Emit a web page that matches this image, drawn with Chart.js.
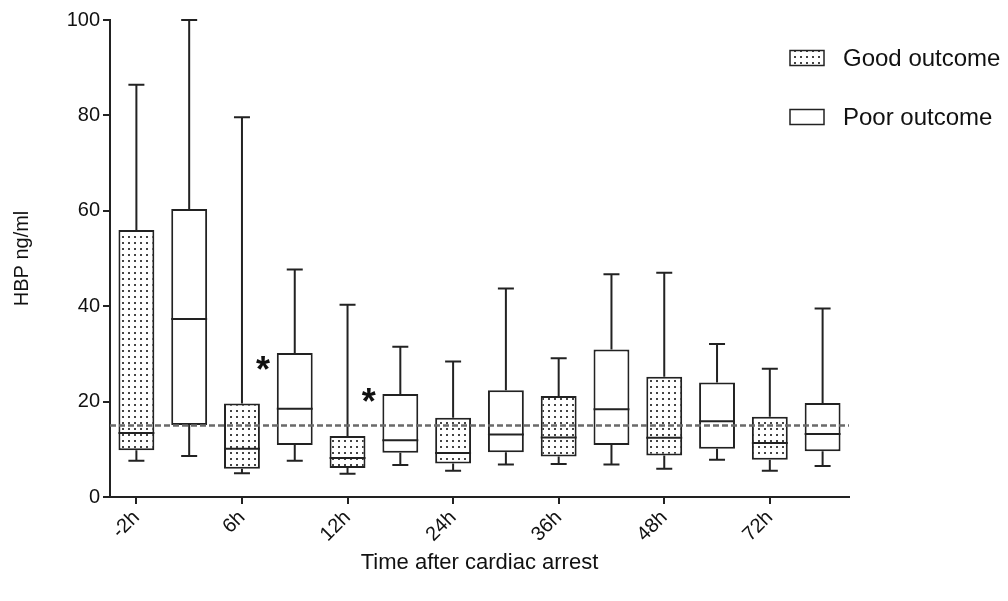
<!DOCTYPE html>
<html><head><meta charset="utf-8">
<script src="https://cdn.jsdelivr.net/npm/chart.js@4.4.1/dist/chart.umd.min.js"></script>
<style>html,body{margin:0;padding:0;background:#fff;}canvas{display:block;}</style>
</head><body>
<canvas id="c" width="1008" height="601"></canvas>
<script>
// ---- data ----
const categories = ['-2h', '6h', '12h', '24h', '36h', '48h', '72h'];
const seriesNames = ['Good outcome', 'Poor outcome'];
const goodMin    = [7.6, 5.0, 4.9, 5.5, 6.9, 5.9, 5.5];
const goodQ1     = [9.8, 5.9, 6.1, 7.0, 8.5, 8.7, 7.8];
const goodMedian = [13.4, 10.1, 8.2, 9.2, 12.5, 12.4, 11.3];
const goodQ3     = [56.0, 19.6, 12.8, 16.6, 21.2, 25.2, 16.8];
const goodMax    = [86.4, 79.6, 40.3, 28.4, 29.1, 47.0, 26.9];
const poorMin    = [8.6, 7.6, 6.7, 6.8, 6.8, 7.8, 6.5];
const poorQ1     = [15.1, 10.9, 9.3, 9.4, 10.9, 10.1, 9.6];
const poorMedian = [37.3, 18.5, 11.9, 13.1, 18.4, 15.9, 13.2];
const poorQ3     = [60.4, 30.2, 21.6, 22.4, 30.9, 24.0, 19.7];
const poorMax    = [100, 47.7, 31.5, 43.7, 46.7, 32.1, 39.5];
const yTicks = [0, 20, 40, 60, 80, 100];
const referenceValue = 15;
const starCategories = ['6h', '12h'];
const starValues = [28, 21.4];

// ---- build library structures ----
const FONT = "'Liberation Sans', Arial, Helvetica, sans-serif";
const INK = '#222';
const slotLabels = [];
const goodBars = [], poorBars = [];
categories.forEach((c, i) => {
  slotLabels.push(c); slotLabels.push('');
  goodBars.push([goodQ1[i], goodQ3[i]]); goodBars.push(null);
  poorBars.push(null); poorBars.push([poorQ1[i], poorQ3[i]]);
});
const stats = [
  {min: goodMin, med: goodMedian, max: goodMax, q1: goodQ1, q3: goodQ3},
  {min: poorMin, med: poorMedian, max: poorMax, q1: poorQ1, q3: poorQ3}
];

const canvas = document.getElementById('c');
const pc = document.createElement('canvas'); pc.width = 6; pc.height = 6;
const pctx = pc.getContext('2d');
pctx.fillStyle = '#fff'; pctx.fillRect(0, 0, 6, 6);
pctx.fillStyle = '#444'; pctx.fillRect(2, 2, 2, 2);
const dotPattern = canvas.getContext('2d').createPattern(pc, 'repeat');

const extras = {
  id: 'boxExtras',
  afterDatasetsDraw(chart) {
    const ctx = chart.ctx, xs = chart.scales.x, ys = chart.scales.y, area = chart.chartArea;
    ctx.save();
    ctx.strokeStyle = INK; ctx.lineWidth = 2; ctx.lineCap = 'butt';
    stats.forEach((s, g) => {
      const meta = chart.getDatasetMeta(g);
      categories.forEach((c, i) => {
        const slot = 2 * i + g;
        const el = meta.data[slot];
        const cx = xs.getPixelForValue(slot);
        const hw = el.width / 2;
        const capHw = 8;
        const yMin = ys.getPixelForValue(s.min[i]);
        const yMax = ys.getPixelForValue(s.max[i]);
        const yQ1 = ys.getPixelForValue(s.q1[i]);
        const yQ3 = ys.getPixelForValue(s.q3[i]);
        const yMed = ys.getPixelForValue(s.med[i]);
        ctx.beginPath();
        ctx.moveTo(cx, yQ3); ctx.lineTo(cx, yMax);
        ctx.moveTo(cx, yQ1); ctx.lineTo(cx, yMin);
        ctx.moveTo(cx - capHw, yMax); ctx.lineTo(cx + capHw, yMax);
        ctx.moveTo(cx - capHw, yMin); ctx.lineTo(cx + capHw, yMin);
        ctx.moveTo(cx - hw, yMed); ctx.lineTo(cx + hw, yMed);
        ctx.stroke();
      });
    });
    // reference line
    const yRef = ys.getPixelForValue(referenceValue);
    ctx.strokeStyle = '#6a6a6a'; ctx.lineWidth = 2.5; ctx.setLineDash([6, 3]);
    ctx.beginPath(); ctx.moveTo(area.left, yRef); ctx.lineTo(area.right, yRef); ctx.stroke();
    ctx.setLineDash([]);
    // significance stars
    ctx.fillStyle = '#111';
    ctx.font = 'bold 36px ' + FONT;
    ctx.textAlign = 'center'; ctx.textBaseline = 'alphabetic';
    starCategories.forEach((c, k) => {
      const idx = 2 * categories.indexOf(c);
      const px = xs.getPixelForValue(idx) + 0.4 * (xs.getPixelForValue(1) - xs.getPixelForValue(0));
      const py = ys.getPixelForValue(starValues[k]);
      const m = ctx.measureText('*');
      const off = (m.actualBoundingBoxAscent - m.actualBoundingBoxDescent) / 2;
      ctx.fillText('*', px, py + off);
    });
    ctx.restore();
  },
  afterDraw(chart) {
    const ctx = chart.ctx;
    ctx.save();
    const items = [{y: 58, fill: dotPattern, label: seriesNames[0]}, {y: 117, fill: '#fff', label: seriesNames[1]}];
    items.forEach(it => {
      ctx.fillStyle = it.fill;
      ctx.fillRect(790, it.y - 7.5, 34, 15);
      ctx.strokeStyle = INK; ctx.lineWidth = 1.5;
      ctx.strokeRect(790, it.y - 7.5, 34, 15);
      ctx.fillStyle = '#111';
      ctx.font = '24px ' + FONT;
      ctx.textAlign = 'left'; ctx.textBaseline = 'middle';
      ctx.fillText(it.label, 843, it.y + 1);
    });
    ctx.restore();
  }
};

new Chart(canvas, {
  type: 'bar',
  data: {
    labels: slotLabels,
    datasets: [
      {label: seriesNames[0], data: goodBars, backgroundColor: dotPattern, borderColor: INK, borderWidth: 2,
       borderSkipped: false, barPercentage: 0.68, categoryPercentage: 1, grouped: false},
      {label: seriesNames[1], data: poorBars, backgroundColor: '#fff', borderColor: INK, borderWidth: 2,
       borderSkipped: false, barPercentage: 0.68, categoryPercentage: 1, grouped: false}
    ]
  },
  options: {
    responsive: false,
    animation: false,
    devicePixelRatio: 1,
    layout: {padding: {left: 10, right: 159, top: 20, bottom: 0}},
    plugins: {legend: {display: false}, tooltip: {enabled: false}},
    scales: {
      x: {
        type: 'category',
        offset: true,
        grid: {display: true, drawOnChartArea: false, offset: false, tickLength: 7, lineWidth: 2,
               color: c => (c.index % 2 === 0 ? INK : 'rgba(0,0,0,0)')},
        border: {display: true, color: INK, width: 2},
        ticks: {autoSkip: false, maxRotation: 45, minRotation: 45, padding: 2, color: '#111',
                font: {family: FONT, size: 20}},
        title: {display: true, text: 'Time after cardiac arrest', color: '#111',
                font: {family: FONT, size: 22}, padding: {top: 0, bottom: 25}},
        afterFit: s => { s.height = 104; }
      },
      y: {
        min: yTicks[0], max: yTicks[yTicks.length - 1],
        afterBuildTicks: s => { s.ticks = yTicks.map(v => ({value: v})); },
        grid: {display: true, drawOnChartArea: false, tickLength: 7, lineWidth: 2, color: INK},
        border: {display: true, color: INK, width: 2},
        ticks: {padding: 3, color: '#111', font: {family: FONT, size: 20}},
        title: {display: true, text: 'HBP ng/ml', color: '#111', font: {family: FONT, size: 20}, padding: 0},
        afterFit: s => { s.width = 100; }
      }
    }
  },
  plugins: [extras]
});
</script>
</body></html>
